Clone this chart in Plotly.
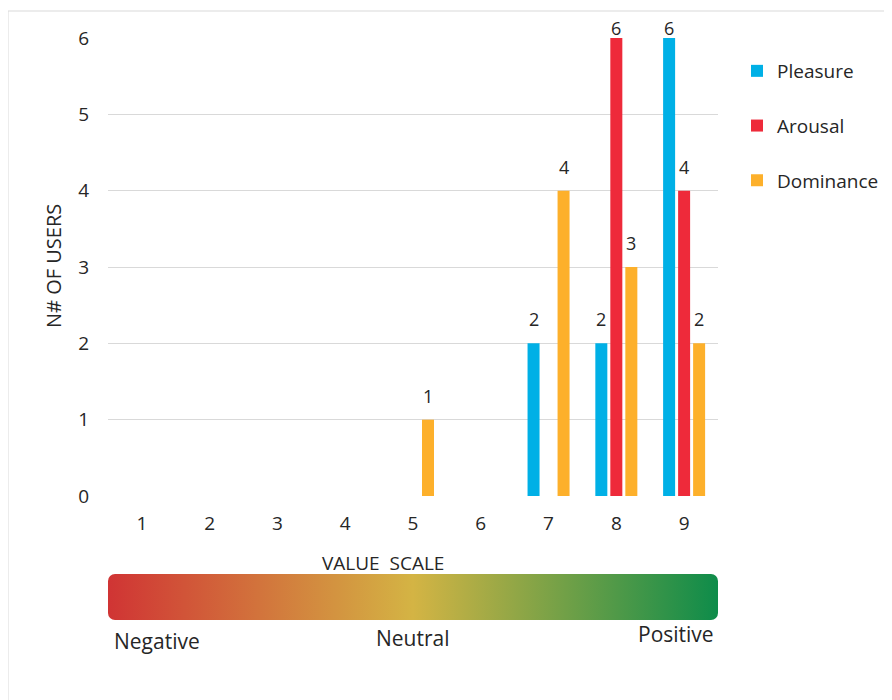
import base64
import plotly.graph_objects as go

# ---- data ----
categories = [1, 2, 3, 4, 5, 6, 7, 8, 9]
tick_labels = ["1", "2", "3", "4", "5", "6", "7", "8", "9"]
pleasure = [0, 0, 0, 0, 0, 0, 2, 2, 6]
arousal = [0, 0, 0, 0, 0, 0, 0, 6, 4]
dominance = [0, 0, 0, 0, 1, 0, 4, 3, 2]
series_names = ["Pleasure", "Arousal", "Dominance"]
series_values = [pleasure, arousal, dominance]
series_colors = ["#00B0E6", "#EE2A3A", "#FDB02B"]
y_ticks = [0, 1, 2, 3, 4, 5, 6]
scale_labels = ["Negative", "Neutral", "Positive"]

FONT = "Open Sans"
TXT = "#262626"
W, H = 892, 700
OFF = 8  # page body margin offset
# plot area in page pixels: x 108..718, y 38..496
PL, PR, PT, PB = 108, 718, 38, 496
L, T = PL - OFF, PT - OFF
R, B = W - (PR - OFF), H - (PB - OFF)
PW, PH = PR - PL, PB - PT


def px_x(p):
    return (p - PL) / PW


def px_y(p):
    return (PB - p) / PH


BARGAP = 0.336
GROUPGAP = 0.2
slot = (1 - BARGAP) / len(series_names)

fig = go.Figure()
annotations = []
ymax = max(y_ticks)
for i, (name, vals, col) in enumerate(zip(series_names, series_values, series_colors)):
    fig.add_trace(go.Bar(
        x=categories, y=vals, name=name, marker=dict(color=col, line=dict(width=0)),
        legendgroup=name,
    ))
    off = (i - (len(series_names) - 1) / 2) * slot
    for c, v in zip(categories, vals):
        if v:
            annotations.append(dict(
                x=c + off, y=v, xref="x", yref="y", text=str(v), showarrow=False,
                yanchor="middle", yshift=10 if v >= ymax else 24,
                font=dict(family=FONT, size=18, color=TXT),
            ))

# axis titles
annotations.append(dict(
    x=px_x(383), y=px_y(563), xref="paper", yref="paper", text="VALUE&nbsp;&nbsp;SCALE",
    showarrow=False, font=dict(family=FONT, size=19, color=TXT), xanchor="center", yanchor="middle",
))
annotations.append(dict(
    x=px_x(53), y=px_y(266), xref="paper", yref="paper", text="N# OF USERS",
    showarrow=False, textangle=-90, font=dict(family=FONT, size=20, color=TXT),
    xanchor="center", yanchor="middle",
))
# gradient labels
annotations.append(dict(x=px_x(112), y=px_y(641), xref="paper", yref="paper", text=scale_labels[0],
                        showarrow=False, xanchor="left", yanchor="middle",
                        font=dict(family=FONT, size=21, color=TXT)))
annotations.append(dict(x=px_x(413), y=px_y(638), xref="paper", yref="paper", text=scale_labels[1],
                        showarrow=False, xanchor="center", yanchor="middle",
                        font=dict(family=FONT, size=21, color=TXT)))
annotations.append(dict(x=px_x(716), y=px_y(634), xref="paper", yref="paper", text=scale_labels[2],
                        showarrow=False, xanchor="right", yanchor="middle",
                        font=dict(family=FONT, size=21, color=TXT)))

# gradient bar as SVG image
gw, gh = 610, 46
svg = (
    f'<svg xmlns="http://www.w3.org/2000/svg" width="{gw}" height="{gh}" viewBox="0 0 {gw} {gh}" preserveAspectRatio="none">'
    '<defs><linearGradient id="g" x1="0" y1="0" x2="1" y2="0">'
    '<stop offset="0" stop-color="rgb(208,52,52)"/>'
    '<stop offset="0.5" stop-color="rgb(212,180,68)"/>'
    '<stop offset="1" stop-color="rgb(14,140,74)"/>'
    '</linearGradient></defs>'
    f'<rect x="0" y="0" width="{gw}" height="{gh}" rx="7" ry="7" fill="url(#g)"/></svg>'
)
src = "data:image/svg+xml;base64," + base64.b64encode(svg.encode()).decode()

fig.update_layout(
    width=W, height=H,
    margin=dict(l=L, r=R, t=T, b=B),
    paper_bgcolor="white", plot_bgcolor="white",
    barmode="group", bargap=BARGAP, bargroupgap=GROUPGAP,
    font=dict(family=FONT, color=TXT),
    xaxis=dict(range=[0.5, 9.5], tickvals=categories, ticktext=tick_labels, showgrid=False,
               zeroline=False, showline=False, ticks="", ticklabelstandoff=14,
               tickfont=dict(family=FONT, size=19, color=TXT), fixedrange=True),
    yaxis=dict(range=[0, 6], tickvals=y_ticks, showgrid=True, gridcolor="#D9D9D9", gridwidth=1,
               zeroline=False, showline=False, ticks="", ticklabelstandoff=18,
               tickfont=dict(family=FONT, size=19, color=TXT), fixedrange=True),
    legend=dict(x=px_x(737), y=px_y(52), xanchor="left", yanchor="top",
                font=dict(family=FONT, size=19, color=TXT), tracegroupgap=27,
                bgcolor="rgba(0,0,0,0)"),
    annotations=annotations,
    images=[dict(source=src, xref="paper", yref="paper", x=px_x(108), y=px_y(574),
                 sizex=px_x(718) - px_x(108), sizey=px_y(574) - px_y(620),
                 xanchor="left", yanchor="top", sizing="stretch", layer="above")],
    shapes=[dict(type="rect", xref="paper", yref="paper", x0=px_x(8), x1=px_x(900),
                 y0=px_y(11), y1=px_y(710), line=dict(color="#D9D9D9", width=1),
                 fillcolor="rgba(0,0,0,0)", layer="below")],
)

fig.write_html("out.html")
